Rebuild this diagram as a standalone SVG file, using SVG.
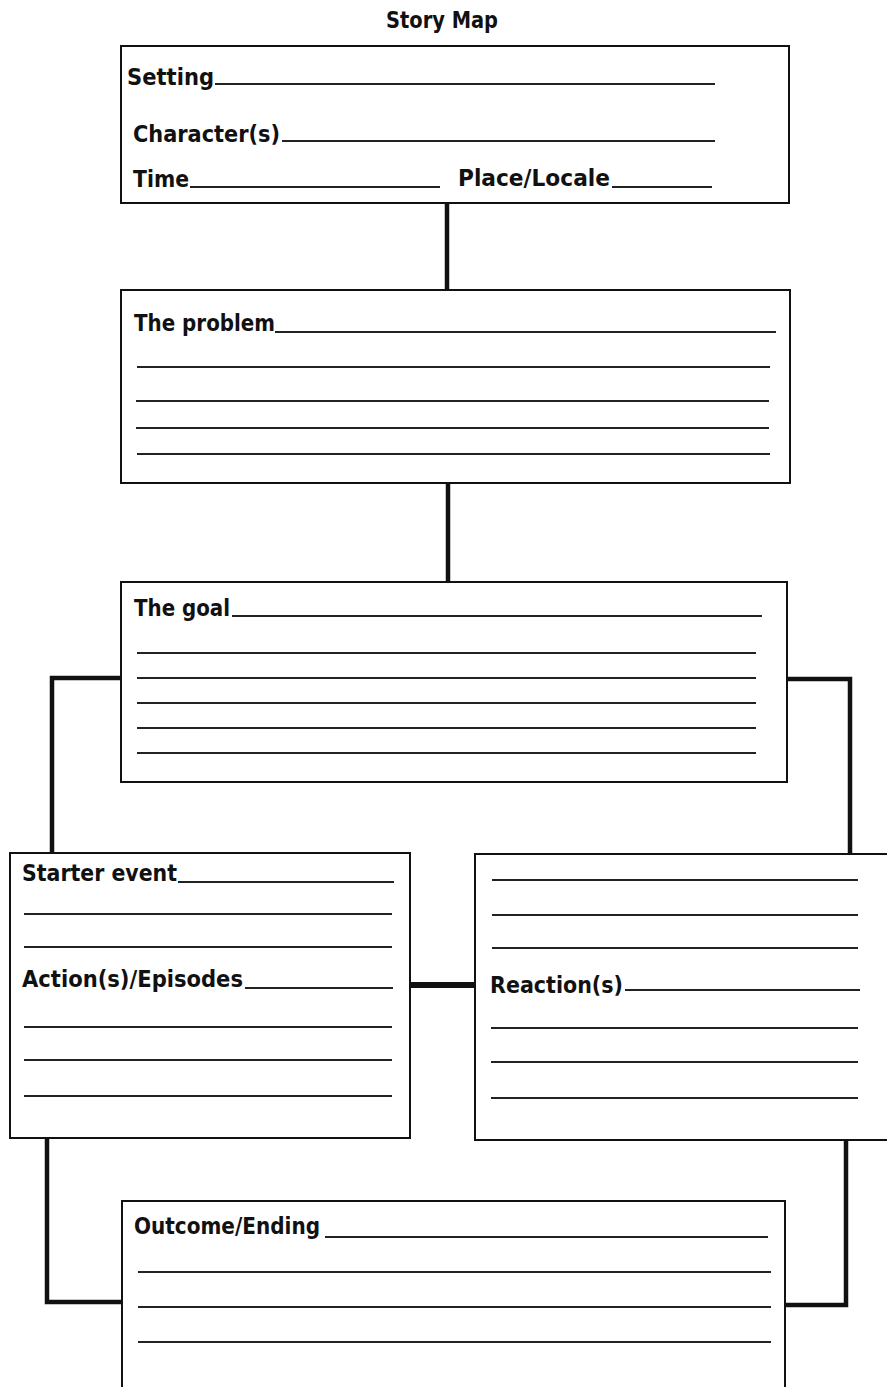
<svg xmlns="http://www.w3.org/2000/svg" width="887" height="1387" viewBox="0 0 887 1387">
<style>
.box{fill:#fff;stroke:#111;stroke-width:2}
.ln{stroke:#222;stroke-width:2;fill:none}
.con{stroke:#111;stroke-width:4.5;fill:none}
text{font-family:"DejaVu Sans Condensed","DejaVu Sans",sans-serif;font-size:23px;font-weight:bold;fill:#111}
</style>
<rect width="887" height="1387" fill="#fff"/>
<text x="386" y="28" textLength="112" lengthAdjust="spacingAndGlyphs">Story Map</text>
<g id="connectors">
<line class="con" x1="447" y1="203" x2="447" y2="290"/>
<line class="con" x1="448" y1="483" x2="448" y2="582"/>
<polyline class="con" points="121,678 52,678 52,853"/>
<polyline class="con" points="787,679 850,679 850,855"/>
<line x1="410" y1="985" x2="475" y2="985" stroke="#111" stroke-width="6"/>
<polyline class="con" points="47,1138 47,1302 122,1302"/>
<polyline class="con" points="846,1140 846,1305 786,1305"/>
</g>
<g id="setting">
<rect class="box" x="121" y="46" width="668" height="157"/>
<text x="127" y="85" textLength="87" lengthAdjust="spacingAndGlyphs">Setting</text>
<line class="ln" x1="215" y1="84" x2="715" y2="84"/>
<text x="133" y="142" textLength="147" lengthAdjust="spacingAndGlyphs">Character(s)</text>
<line class="ln" x1="282" y1="141" x2="715" y2="141"/>
<text x="133" y="187" textLength="56" lengthAdjust="spacingAndGlyphs">Time</text>
<line class="ln" x1="190" y1="187" x2="440" y2="187"/>
<text x="458" y="186" textLength="152" lengthAdjust="spacingAndGlyphs">Place/Locale</text>
<line class="ln" x1="612" y1="187" x2="712" y2="187"/>
</g>
<g id="problem">
<rect class="box" x="121" y="290" width="669" height="193"/>
<text x="134" y="331" textLength="141" lengthAdjust="spacingAndGlyphs">The problem</text>
<line class="ln" x1="275" y1="332" x2="776" y2="332"/>
<line class="ln" x1="137" y1="367" x2="770" y2="367"/>
<line class="ln" x1="136" y1="401" x2="769" y2="401"/>
<line class="ln" x1="136" y1="428" x2="769" y2="428"/>
<line class="ln" x1="137" y1="454" x2="770" y2="454"/>
</g>
<g id="goal">
<rect class="box" x="121" y="582" width="666" height="200"/>
<text x="134" y="616" textLength="96" lengthAdjust="spacingAndGlyphs">The goal</text>
<line class="ln" x1="232" y1="616" x2="762" y2="616"/>
<line class="ln" x1="137" y1="653" x2="756" y2="653"/>
<line class="ln" x1="137" y1="678" x2="756" y2="678"/>
<line class="ln" x1="137" y1="703" x2="756" y2="703"/>
<line class="ln" x1="137" y1="728" x2="756" y2="728"/>
<line class="ln" x1="137" y1="753" x2="756" y2="753"/>
</g>
<g id="starter">
<rect class="box" x="10" y="853" width="400" height="285"/>
<text x="22" y="881" textLength="155" lengthAdjust="spacingAndGlyphs">Starter event</text>
<line class="ln" x1="178" y1="882" x2="394" y2="882"/>
<line class="ln" x1="24" y1="914" x2="392" y2="914"/>
<line class="ln" x1="24" y1="947" x2="392" y2="947"/>
<text x="22" y="987" textLength="221" lengthAdjust="spacingAndGlyphs">Action(s)/Episodes</text>
<line class="ln" x1="245" y1="988" x2="393" y2="988"/>
<line class="ln" x1="24" y1="1027" x2="392" y2="1027"/>
<line class="ln" x1="24" y1="1060" x2="392" y2="1060"/>
<line class="ln" x1="24" y1="1096" x2="392" y2="1096"/>
</g>
<g id="reaction">
<rect class="box" x="475" y="854" width="420" height="286"/>
<line class="ln" x1="492" y1="880" x2="858" y2="880"/>
<line class="ln" x1="492" y1="915" x2="858" y2="915"/>
<line class="ln" x1="492" y1="948" x2="858" y2="948"/>
<text x="490" y="993" textLength="133" lengthAdjust="spacingAndGlyphs">Reaction(s)</text>
<line class="ln" x1="625" y1="990" x2="860" y2="990"/>
<line class="ln" x1="491" y1="1028" x2="858" y2="1028"/>
<line class="ln" x1="491" y1="1062" x2="858" y2="1062"/>
<line class="ln" x1="491" y1="1098" x2="858" y2="1098"/>
</g>
<g id="outcome">
<rect class="box" x="122" y="1201" width="663" height="200"/>
<text x="134" y="1234" textLength="186" lengthAdjust="spacingAndGlyphs">Outcome/Ending</text>
<line class="ln" x1="325" y1="1237" x2="768" y2="1237"/>
<line class="ln" x1="138" y1="1272" x2="771" y2="1272"/>
<line class="ln" x1="138" y1="1307" x2="771" y2="1307"/>
<line class="ln" x1="138" y1="1342" x2="771" y2="1342"/>
</g>
</svg>
